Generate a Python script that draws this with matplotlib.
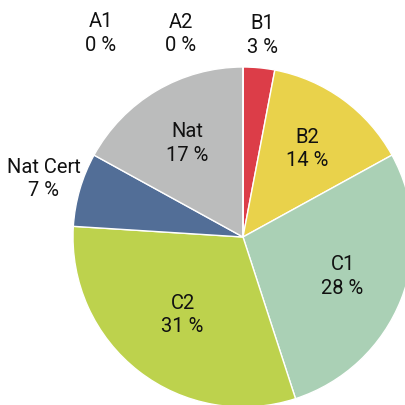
import matplotlib
matplotlib.use("Agg")
import matplotlib.pyplot as plt
import numpy as np

categories = ["B1", "B2", "C1", "C2", "Nat Cert", "Nat", "A2", "A1"]
shares = [3, 14, 28, 31, 7, 17, 0, 0]
colors = ["#DC3D48", "#E9D24B", "#AAD0B5", "#BDD24D", "#526E97", "#BBBCBC", "#FFFFFF", "#FFFFFF"]

# label distance (fraction of radius) and fixed angle for the zero slices
label_dist = [1.19, 0.64, 0.63, 0.58, 1.22, 0.64, 1.25, 1.46]
label_angle_fix = [0, 0, 0, 0, 0, 0, 107, 125]

plt.rcParams['font.family'] = ['Roboto', 'DejaVu Sans']

fig = plt.figure(figsize=(4.06, 4.05), dpi=100)
ax = fig.add_axes([0, 0, 1, 1])

R = 170
cx, cy = 243, 405 - 237
ax.pie(shares, colors=colors, startangle=90, counterclock=False,
       radius=R, center=(cx, cy),
       wedgeprops=dict(edgecolor="white", linewidth=1.0))

start = 90.0
for name, val, d, fix in zip(categories, shares, label_dist, label_angle_fix):
    mid = start - val * 3.6 / 2
    start -= val * 3.6
    ang = fix if fix else mid
    x = cx + d * R * np.cos(np.radians(ang))
    y = cy + d * R * np.sin(np.radians(ang))
    ax.text(x, y, f"{name}\n{val} %", ha="center", va="center",
            fontsize=14.5, linespacing=1.3, color="#111111")

ax.set_xlim(0, 406)
ax.set_ylim(0, 405)
ax.set_aspect("equal")
ax.axis("off")

fig.savefig("out.png", dpi=100)
